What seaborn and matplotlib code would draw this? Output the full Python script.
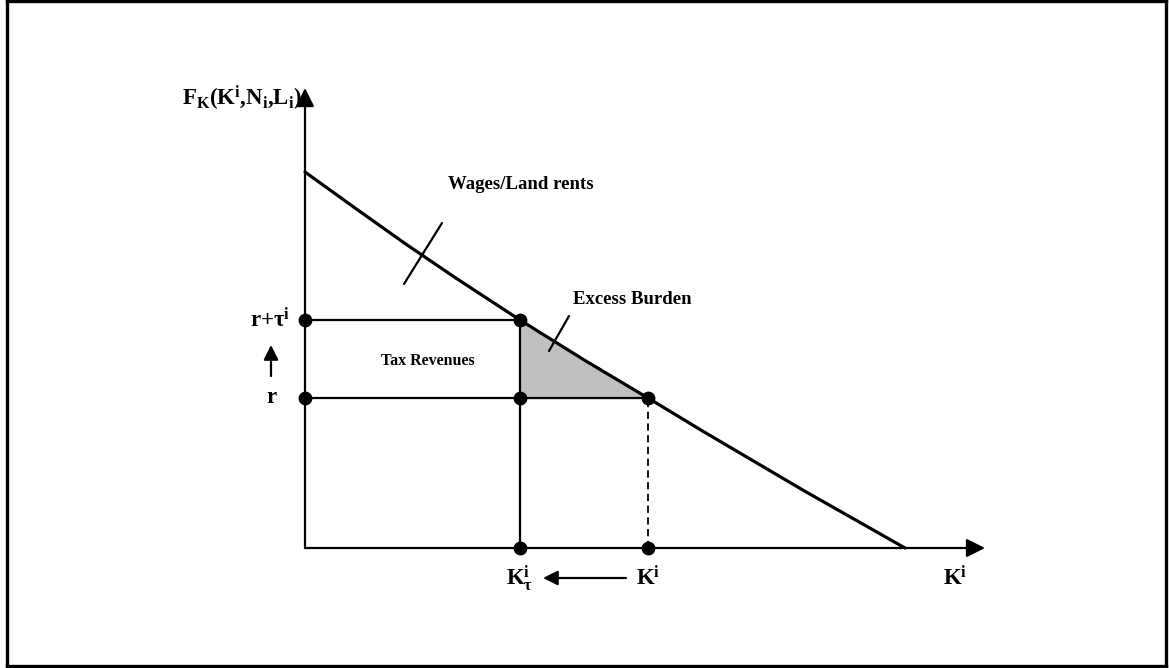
# tax on capital: excess burden diagram
import matplotlib
matplotlib.use("Agg")
import matplotlib.pyplot as plt
import seaborn as sns
import pandas as pd

sns.set_theme(style="white")
plt.rcParams['font.family'] = ['Liberation Serif', 'DejaVu Serif']
plt.rcParams['mathtext.fontset'] = 'custom'
plt.rcParams['mathtext.rm'] = 'Liberation Serif:bold'
plt.rcParams['mathtext.bf'] = 'Liberation Serif:bold'
plt.rcParams['mathtext.it'] = 'Liberation Serif:bold'

# marginal product of capital curve
k_curve = [0.0, 0.5, 1.0, 1.5, 2.15, 2.8, 3.43, 4.0, 5.0, 6.0]
fk_curve = [3.76, 3.40, 3.045, 2.705, 2.28, 1.875, 1.50, 1.155, 0.567, 0.0]

r = 1.50
r_tau = 2.28
k_tau = 2.15
k_free = 3.43
x_axis_end = 6.80
y_axis_end = 4.60

# key points
pts_x = [0, 0, k_tau, k_tau, k_free, k_tau, k_free]
pts_y = [r_tau, r, r_tau, r, r, 0, 0]

fig = plt.figure(figsize=(11.69, 6.68), dpi=100)
ax = fig.add_axes([7 / 1169, 2 / 668, 1159 / 1169, 665 / 668])
ax.set_xlim(-2.98, 8.61)
ax.set_ylim(-1.18, 5.47)
ax.set_xticks([])
ax.set_yticks([])
for s in ax.spines.values():
    s.set_visible(True)
    s.set_color('black')
    s.set_linewidth(2.4)

# shaded excess burden
ax.fill([k_tau, k_tau, k_free], [r_tau, r, r], color='#c0c0c0', zorder=1)

# axes with arrows
arr = dict(arrowstyle='-|>', lw=1.6, color='black', mutation_scale=28, shrinkA=0, shrinkB=0)
ax.annotate('', xy=(0, y_axis_end), xytext=(0, 0), arrowprops=arr, zorder=3)
ax.annotate('', xy=(x_axis_end, 0), xytext=(0, 0), arrowprops=arr, zorder=3)

# guide lines
ax.plot([0, k_tau], [r_tau, r_tau], color='black', lw=1.6, zorder=2)
ax.plot([0, k_free], [r, r], color='black', lw=1.6, zorder=2)
ax.plot([k_tau, k_tau], [0, r_tau], color='black', lw=1.6, zorder=2)
ax.plot([k_free, k_free], [0, r], color='black', lw=1.3, ls=(0, (4, 2.5)), zorder=2)

df = pd.DataFrame({'k': k_curve, 'fk': fk_curve})
sns.lineplot(data=df, x='k', y='fk', color='black', lw=2.3, ax=ax, zorder=4)
ax.set_xlabel('')
ax.set_ylabel('')

ax.scatter(pts_x, pts_y, s=80, color='black', zorder=5)

# pointer ticks
ax.plot([0.99, 1.37], [2.64, 3.25], color='black', lw=1.6)
ax.plot([2.44, 2.64], [1.97, 2.32], color='black', lw=1.6)

# small arrows
small = dict(arrowstyle='-|>', lw=1.6, color='black', mutation_scale=22, shrinkA=0, shrinkB=0)
ax.annotate('', xy=(-0.34, 2.03), xytext=(-0.34, 1.72), arrowprops=small)
ax.annotate('', xy=(2.38, -0.30), xytext=(3.21, -0.30), arrowprops=small)

tk = dict(color='black', fontweight='bold')
ax.text(1.43, 3.63, 'Wages/Land rents', fontsize=13.5, ha='left', va='center', **tk)
ax.text(2.68, 2.48, 'Excess Burden', fontsize=13.5, ha='left', va='center', **tk)
ax.text(1.23, 1.87, 'Tax Revenues', fontsize=11.5, ha='center', va='center', **tk)
ax.text(-0.35, 2.28, r'$\mathbf{r{+}\tau^i}$', fontsize=16.5, ha='center', va='center', **tk)
ax.text(-0.33, 1.50, r'$\mathbf{r}$', fontsize=16.5, ha='center', va='center', **tk)
ax.text(k_tau, -0.30, r'$\mathbf{K^i_\tau}$', fontsize=16.5, ha='center', va='center', **tk)
ax.text(k_free, -0.30, r'$\mathbf{K^i}$', fontsize=16.5, ha='center', va='center', **tk)
ax.text(6.50, -0.30, r'$\mathbf{K^i}$', fontsize=16.5, ha='center', va='center', **tk)
ax.text(-0.03, 4.50, r'$\mathbf{F_K(K^i{,}N_i{,}L_i)}$', fontsize=16.5, ha='right', va='center', **tk)

fig.savefig('out.png', dpi=100)
